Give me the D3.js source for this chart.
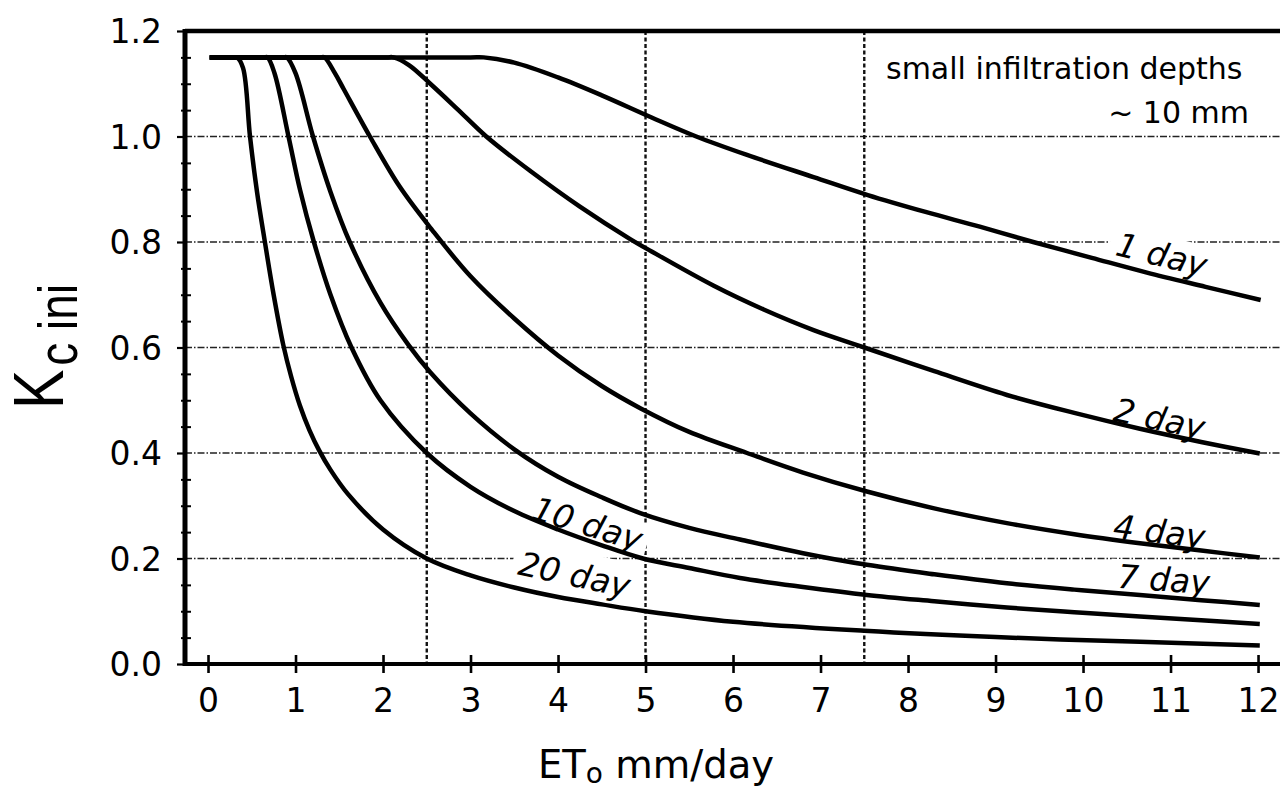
<!DOCTYPE html>
<html><head><meta charset="utf-8">
<script src="https://cdn.jsdelivr.net/npm/d3@7"></script>
<style>html,body{margin:0;padding:0;background:#fff}svg{display:block}</style>
</head><body>
<svg id="chart" width="1280" height="790"></svg>
<script>
// ---- data ----
const xTickValues = [0,1,2,3,4,5,6,7,8,9,10,11,12];
const yTickValues = [0,0.2,0.4,0.6,0.8,1.0,1.2];
const yTickLabels = ["0.0","0.2","0.4","0.6","0.8","1.0","1.2"];
const yMinorTicks = [0.05,0.1,0.15,0.25,0.3,0.35,0.45,0.5,0.55,0.65,0.7,0.75,0.85,0.9,0.95,1.05,1.1,1.15];
const gridYValues = [0.2,0.4,0.6,0.8,1.0];
const refXValues = [2.5,5,7.5];

const day1  = [[0.02,1.15],[3.0,1.15],[3.15,1.15],[3.5,1.14],[4.0,1.112],[4.5,1.078],[5.07,1.036],[5.58,1.0],[6.16,0.965],[6.92,0.923],[7.54,0.889],[8.2,0.857],[8.82,0.829],[9.43,0.80],[10.1,0.77],[10.73,0.742],[11.4,0.715],[12.03,0.69]];
const day2  = [[0.02,1.15],[2.04,1.15],[2.12,1.15],[2.3,1.135],[2.54,1.10],[2.85,1.052],[3.18,1.0],[3.68,0.935],[4.25,0.867],[4.82,0.806],[5.07,0.782],[5.78,0.717],[6.35,0.672],[6.92,0.633],[7.5,0.60],[8.3,0.555],[9.13,0.51],[9.9,0.476],[10.65,0.446],[11.35,0.421],[12.02,0.399]];
const day4  = [[0.02,1.15],[1.28,1.15],[1.33,1.15],[1.45,1.12],[1.55,1.09],[1.85,1.0],[2.19,0.905],[2.56,0.823],[3.0,0.735],[3.5,0.655],[4.0,0.585],[4.5,0.527],[4.94,0.485],[5.5,0.44],[6.16,0.40],[6.8,0.363],[7.53,0.327],[8.3,0.295],[9.13,0.267],[9.9,0.246],[10.65,0.229],[11.35,0.215],[12.02,0.202]];
const day7  = [[0.02,1.15],[0.86,1.15],[0.90,1.15],[1.0,1.12],[1.2,1.0],[1.4,0.895],[1.62,0.8],[1.97,0.685],[2.29,0.605],[2.54,0.553],[3.0,0.475],[3.5,0.407],[4.0,0.355],[4.5,0.316],[4.94,0.286],[5.5,0.258],[6.08,0.236],[6.8,0.21],[7.53,0.188],[8.3,0.17],[9.13,0.153],[9.9,0.141],[10.65,0.131],[11.35,0.121],[12.02,0.112]];
const day10 = [[0.02,1.15],[0.64,1.15],[0.68,1.15],[0.76,1.12],[0.92,1.0],[1.05,0.9],[1.21,0.8],[1.4,0.7],[1.64,0.6],[1.97,0.5],[2.5,0.4],[3.0,0.336],[3.5,0.29],[4.0,0.255],[4.5,0.225],[4.97,0.2],[5.5,0.182],[6.08,0.163],[6.8,0.146],[7.53,0.131],[8.3,0.119],[9.13,0.107],[9.9,0.098],[10.65,0.09],[11.35,0.083],[12.02,0.076]];
const day20 = [[0.02,1.15],[0.30,1.15],[0.33,1.15],[0.40,1.13],[0.48,1.0],[0.56,0.895],[0.65,0.8],[0.75,0.70],[0.86,0.605],[0.95,0.545],[1.05,0.49],[1.16,0.443],[1.27,0.405],[1.4,0.368],[1.6,0.322],[2.0,0.255],[2.5,0.2],[3.0,0.168],[3.5,0.145],[4.0,0.127],[4.5,0.113],[5.0,0.10],[6.0,0.08],[7.5,0.063],[9.0,0.051],[10.65,0.042],[12.02,0.035]];

const seriesList = [day1, day2, day4, day7, day10, day20];
const seriesLabels = ["1 day","2 day","4 day","7 day","10 day","20 day"];
const noteLines = ["small infiltration depths","~ 10 mm"];

// ---- layout ----
const svg = d3.select("#chart");
const x = d3.scaleLinear().domain([-0.263, 12.251]).range([185, 1280]);
const y = d3.scaleLinear().domain([0, 1.2]).range([664, 31]);
const FONT = "DejaVu Sans";

// gridlines
svg.append("g").selectAll("line").data(gridYValues).join("line")
  .attr("x1", x.range()[0]).attr("x2", x.range()[1])
  .attr("y1", d => y(d)).attr("y2", d => y(d))
  .attr("stroke", "#222").attr("stroke-width", 1.4)
  .attr("stroke-dasharray", "7,2,1.5,2");
svg.append("g").selectAll("line").data(refXValues).join("line")
  .attr("x1", d => x(d)).attr("x2", d => x(d))
  .attr("y1", y(1.2)).attr("y2", y(0))
  .attr("stroke", "#111").attr("stroke-width", 2.4)
  .attr("stroke-dasharray", "4,2.5");

// label placements (pixel centre of baseline, angle)
const labelPos = [
  {cx:1159, cy:266, a:14, pt:6},
  {cx:1157, cy:430, a:12, pt:4},
  {cx:1158, cy:543, a:7,  pt:4},
  {cx:1163, cy:591, a:4,  pt:4},
  {cx:584,  cy:535, a:17, pt:4},
  {cx:572,  cy:586, a:12, pt:10}
];
const labelFont = 33;

// white backing behind labels (hides gridlines)
const lblBg = svg.append("g");
seriesLabels.forEach((t, i) => {
  const p = labelPos[i];
  const w = t.length * 19;
  lblBg.append("rect")
    .attr("transform", `translate(${p.cx},${p.cy}) rotate(${p.a})`)
    .attr("x", -w/2 - 6).attr("y", -labelFont*0.75 - p.pt)
    .attr("width", w + 12).attr("height", labelFont*0.75 + p.pt + 3)
    .attr("fill", "#fff");
});

// curves
const line = d3.line().x(d => x(d[0])).y(d => y(d[1])).curve(d3.curveCatmullRom.alpha(0.5));
svg.append("g").selectAll("path").data(seriesList).join("path")
  .attr("d", line).attr("fill", "none").attr("stroke", "#000")
  .attr("stroke-width", 4.5).attr("stroke-linejoin", "round");

// series labels
seriesLabels.forEach((t, i) => {
  const p = labelPos[i];
  svg.append("text")
    .attr("transform", `translate(${p.cx},${p.cy}) rotate(${p.a})`)
    .attr("text-anchor", "middle")
    .attr("font-family", FONT).attr("font-style", "italic")
    .attr("font-size", labelFont).attr("fill", "#000")
    .text(t);
});

// axes
const gx = svg.append("g").attr("transform", `translate(0,${y(0)})`)
  .call(d3.axisBottom(x).tickValues(xTickValues).tickSize(9).tickSizeOuter(0));
gx.select(".domain").remove();
gx.selectAll(".tick line").attr("y1", -9).attr("y2", 9).attr("stroke", "#000").attr("stroke-width", 2.6);
gx.selectAll(".tick text").attr("y", 48).attr("dy", 0)
  .attr("font-family", FONT).attr("font-size", 33).attr("fill", "#000");

const gy = svg.append("g").attr("transform", `translate(${x(-0.263)},0)`)
  .call(d3.axisLeft(y).tickValues(yTickValues).tickFormat((d, i) => yTickLabels[i]).tickSize(8).tickPadding(15).tickSizeOuter(0));
gy.select(".domain").remove();
gy.selectAll(".tick line").attr("stroke", "#000").attr("stroke-width", 2.2);
gy.selectAll(".tick text").attr("dy", "0.36em")
  .attr("font-family", FONT).attr("font-size", 33).attr("fill", "#000");

const gym = svg.append("g").attr("transform", `translate(${x(-0.263)},0)`)
  .call(d3.axisLeft(y).tickValues(yMinorTicks).tickSize(4).tickFormat(""));
gym.select(".domain").remove();
gym.selectAll(".tick line").attr("x1", 6).attr("x2", -4).attr("stroke", "#000").attr("stroke-width", 2);

// frame lines
svg.append("line").attr("x1", x.range()[0]).attr("x2", x.range()[1]).attr("y1", y(1.2)).attr("y2", y(1.2))
  .attr("stroke", "#000").attr("stroke-width", 4.5);
svg.append("line").attr("x1", x.range()[0] - 2).attr("x2", x.range()[1]).attr("y1", y(0)).attr("y2", y(0))
  .attr("stroke", "#000").attr("stroke-width", 4);
svg.append("line").attr("x1", x.range()[0]).attr("x2", x.range()[0]).attr("y1", y(1.2) - 2).attr("y2", y(0) + 2)
  .attr("stroke", "#000").attr("stroke-width", 5);

// note text
svg.append("text").attr("x", 886).attr("y", 79)
  .attr("font-family", FONT).attr("font-size", 30).attr("fill", "#000").text(noteLines[0]);
svg.append("text").attr("x", 1249).attr("y", 123).attr("text-anchor", "end")
  .attr("font-family", FONT).attr("font-size", 30).attr("fill", "#000").text(noteLines[1]);

// x title
const xt = svg.append("text").attr("x", 538).attr("y", 778)
  .attr("font-family", FONT).attr("font-size", 38.5).attr("fill", "#000");
xt.append("tspan").text("ET");
xt.append("tspan").attr("font-size", 28).attr("dy", 5).text("o");
xt.append("tspan").attr("dy", -5).text(" mm/day");

// y title
const yt = svg.append("text")
  .attr("transform", "translate(63,409) scale(1.2,1) rotate(-90)")
  .attr("font-family", "Liberation Sans").attr("font-size", 59).attr("fill", "#000");
yt.append("tspan").text("K");
yt.append("tspan").attr("font-size", 46).attr("dy", 12).attr("dx", 4).text("c ini");
</script>
</body></html>
